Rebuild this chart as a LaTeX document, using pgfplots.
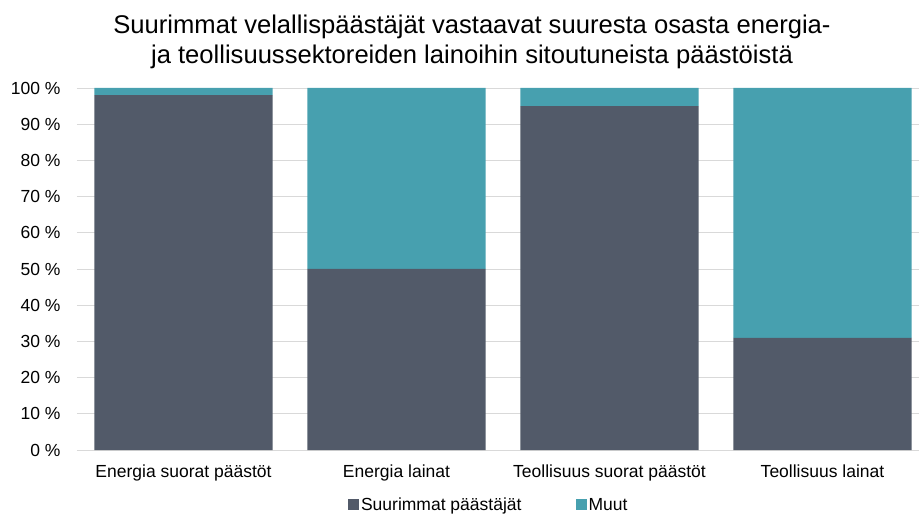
\documentclass[border=0pt]{standalone}
\usepackage{pgfplots}
\pgfplotsset{compat=1.18}
\usepackage{fontspec}
\setmainfont{Liberation Sans}
\definecolor{darkbar}{RGB}{82,90,105}
\definecolor{tealbar}{RGB}{71,160,175}
\definecolor{gridc}{RGB}{217,217,217}
\begin{document}
\begin{tikzpicture}
\begin{axis}[
  name=ax,
  scale only axis,
  width=842bp, height=362bp,
  ybar stacked,
  bar width=0.836,
  xmin=-0.5, xmax=3.453,
  ymin=0, ymax=100,
  xtick={0,1,2,3},
  xticklabels={Energia suorat päästöt, Energia lainat, Teollisuus suorat päästöt, Teollisuus lainat},
  ytick={0,10,...,100},
  yticklabels={0 \%,10 \%,20 \%,30 \%,40 \%,50 \%,60 \%,70 \%,80 \%,90 \%,100 \%},
  major tick length=0pt,
  axis line style={draw=none},
  ymajorgrids,
  grid style={gridc, line width=0.75bp},
  tick label style={font=\fontsize{17.5bp}{20bp}\selectfont, black},
  yticklabel style={xshift=-13bp},
  xticklabel style={anchor=base, yshift=-27bp},
  legend style={at={(0.489,-0.152)}, anchor=center, draw=none, inner sep=1bp,
    font=\fontsize{17.5bp}{20bp}\selectfont, legend columns=2,
    /tikz/every even column/.append style={column sep=52bp}},
  legend image code/.code={\fill[#1] (0bp,-4.5bp) rectangle (11bp,6.5bp);},
]
\addplot[fill=darkbar, draw=none] coordinates {(0,98) (1,50) (2,95) (3,31)};
\addplot[fill=tealbar, draw=none] coordinates {(0,2) (1,50) (2,5) (3,69)};
\legend{Suurimmat päästäjät, Muut}
\end{axis}
\node[align=center, font=\fontsize{25.6bp}{30bp}\selectfont] at ([xshift=395bp, yshift=46.6bp]ax.north west)
  {Suurimmat velallispäästäjät vastaavat suuresta osasta energia-\\ja teollisuussektoreiden lainoihin sitoutuneista päästöistä};
\pgfresetboundingbox
\path ([xshift=-77bp, yshift=-67bp]ax.south west) rectangle ([yshift=88bp]ax.north east);
\end{tikzpicture}
\end{document}
